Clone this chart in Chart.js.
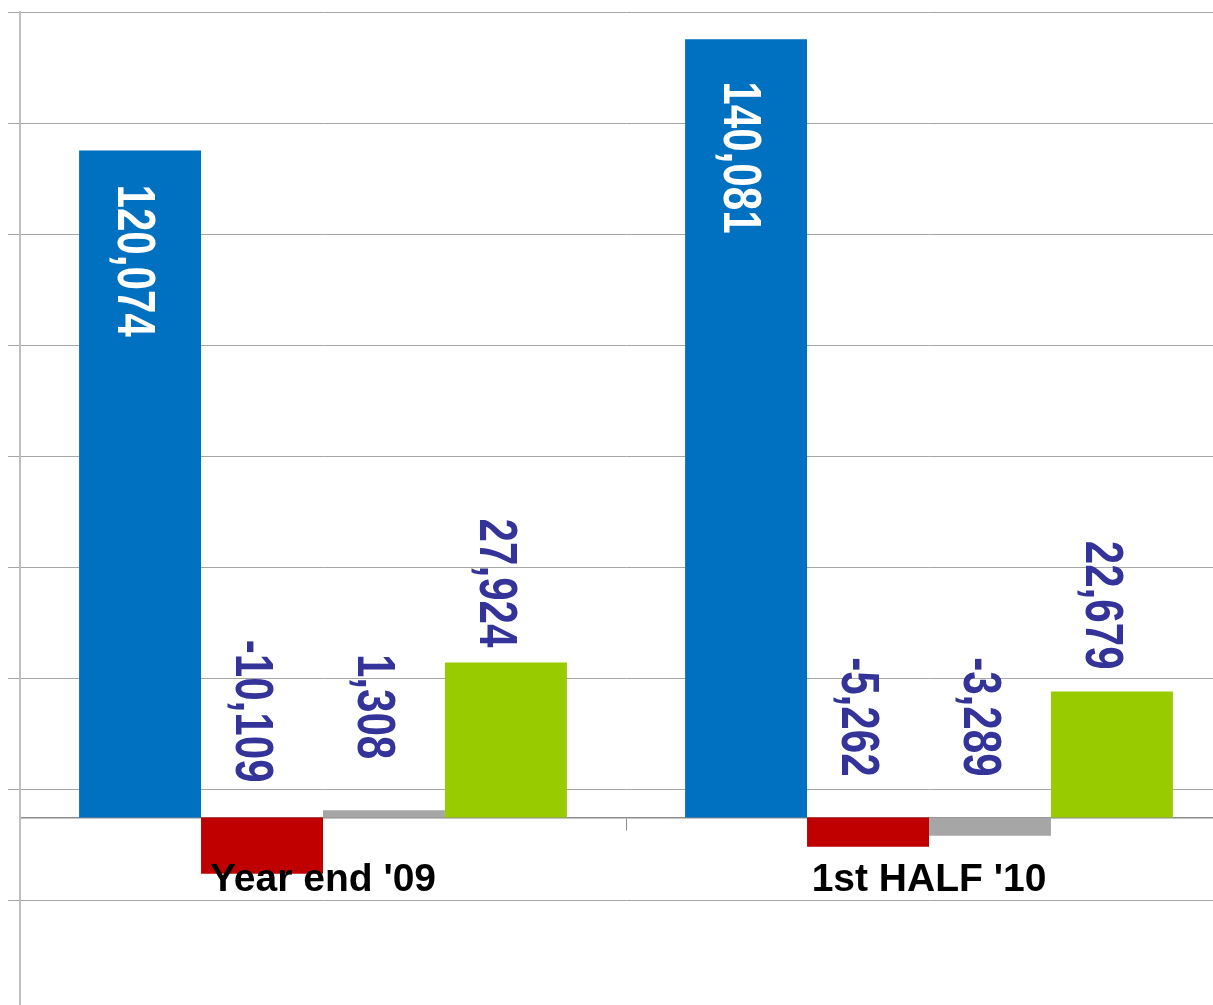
<!DOCTYPE html>
<html>
<head>
<meta charset="utf-8">
<script src="https://cdn.jsdelivr.net/npm/chart.js@4.4.1/dist/chart.umd.min.js"></script>
<style>
  html, body { margin: 0; padding: 0; background: #fff; overflow: hidden; }
  #wrap { width: 1240px; height: 1012px; }
</style>
</head>
<body>
<div id="wrap"><canvas id="mainChart" width="1240" height="1012"></canvas></div>
<script>
// chart data
const categories = ["Year end '09", "1st HALF '10"];
const blueValues = [120074, 140081];
const redValues = [-10109, -5262];
const grayValues = [1308, -3289];
const greenValues = [27924, 22679];
const gridValues = [-35000, -15000, 5000, 25000, 45000, 65000, 85000, 105000, 125000, 145000];

// label look (gap in px from bar end / zero line)
const labelGaps = [[34, 42], [35, 41], [51, 41], [15, 22]];
const labelColors = ['#ffffff', '#333399', '#333399', '#333399'];
const FONT = '"Liberation Sans", Arial, sans-serif';

const valueLabels = {
  id: 'valueLabels',
  afterDatasetsDraw(chart) {
    const ctx = chart.ctx;
    const zeroY = chart.scales.y.getPixelForValue(0);
    chart.data.datasets.forEach((ds, i) => {
      chart.getDatasetMeta(i).data.forEach((bar, j) => {
        const text = ds.data[j].toLocaleString('en-US');
        ctx.save();
        ctx.font = 'bold 54px ' + FONT;
        const len = ctx.measureText(text).width * 0.78;
        const start = i === 0 ? bar.y + labelGaps[i][j] : Math.min(bar.y, zeroY) - labelGaps[i][j] - len;
        ctx.translate(bar.x + (i === 0 ? -3 : -7), start);
        ctx.rotate(Math.PI / 2);
        ctx.scale(0.78, 1);
        ctx.fillStyle = labelColors[i];
        ctx.textBaseline = 'alphabetic';
        ctx.fillText(text, 0, 19);
        ctx.restore();
      });
    });
  }
};

new Chart(document.getElementById('mainChart'), {
  type: 'bar',
  data: {
    labels: categories,
    datasets: [
      { data: blueValues, backgroundColor: '#0070C0' },
      { data: redValues, backgroundColor: '#C00000' },
      { data: grayValues, backgroundColor: '#A6A6A6' },
      { data: greenValues, backgroundColor: '#99CC00' }
    ]
  },
  options: {
    responsive: false,
    devicePixelRatio: 1,
    animation: false,
    layout: { padding: { left: 8, top: 12, right: 8, bottom: 0 } },
    datasets: { bar: { barPercentage: 1, categoryPercentage: 0.805, borderWidth: 0 } },
    plugins: { legend: { display: false }, tooltip: { enabled: false } },
    scales: {
      x: {
        position: { y: 0 },
        offset: true,
        grid: { drawOnChartArea: false, drawTicks: true, tickLength: 12, color: '#8c8c8c', offset: true },
        border: { color: '#8c8c8c', width: 1.5 },
        ticks: { z: 1, color: '#000', padding: 27, maxRotation: 0, autoSkip: false,
                 font: { family: FONT, size: 39, weight: 'bold' } }
      },
      y: {
        min: -35000,
        max: 145000,
        afterBuildTicks: scale => { scale.ticks = gridValues.map(v => ({ value: v })); },
        afterFit: scale => { scale.width = 12; },
        grid: { color: '#a6a6a6', tickLength: 12, drawTicks: true },
        border: { color: '#bfbfbf', width: 2 },
        ticks: { display: false }
      }
    }
  },
  plugins: [valueLabels]
});
</script>
</body>
</html>
